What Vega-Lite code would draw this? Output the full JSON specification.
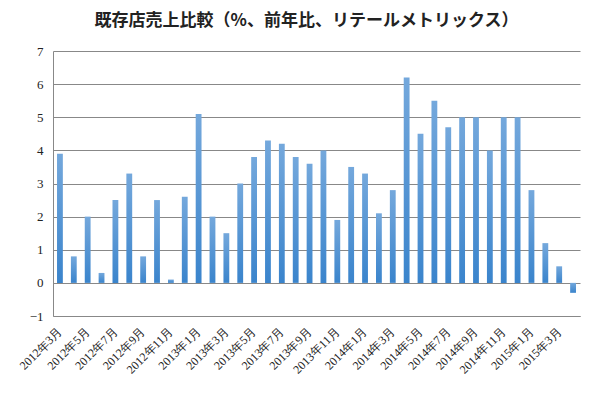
{
  "$schema": "https://vega.github.io/schema/vega-lite/v6.json",
  "width": 527,
  "height": 265,
  "autosize": {"type": "none"},
  "padding": {"left": 53, "top": 51, "right": 23, "bottom": 80},
  "background": "white",
  "title": {
    "text": "既存店売上比較（%、前年比、リテールメトリックス）",
    "font": "Noto Sans CJK JP",
    "fontSize": 17,
    "fontWeight": "bold",
    "color": "#222",
    "anchor": "middle",
    "frame": "group",
    "dx": -10,
    "offset": 15
  },
  "data": {
    "values": [
      {"month": "2012年3月", "value": 3.9},
      {"month": "2012年4月", "value": 0.8},
      {"month": "2012年5月", "value": 2.0},
      {"month": "2012年6月", "value": 0.3},
      {"month": "2012年7月", "value": 2.5},
      {"month": "2012年8月", "value": 3.3},
      {"month": "2012年9月", "value": 0.8},
      {"month": "2012年10月", "value": 2.5},
      {"month": "2012年11月", "value": 0.1},
      {"month": "2012年12月", "value": 2.6},
      {"month": "2013年1月", "value": 5.1},
      {"month": "2013年2月", "value": 2.0},
      {"month": "2013年3月", "value": 1.5},
      {"month": "2013年4月", "value": 3.0},
      {"month": "2013年5月", "value": 3.8},
      {"month": "2013年6月", "value": 4.3},
      {"month": "2013年7月", "value": 4.2},
      {"month": "2013年8月", "value": 3.8},
      {"month": "2013年9月", "value": 3.6},
      {"month": "2013年10月", "value": 4.0},
      {"month": "2013年11月", "value": 1.9},
      {"month": "2013年12月", "value": 3.5},
      {"month": "2014年1月", "value": 3.3},
      {"month": "2014年2月", "value": 2.1},
      {"month": "2014年3月", "value": 2.8},
      {"month": "2014年4月", "value": 6.2},
      {"month": "2014年5月", "value": 4.5},
      {"month": "2014年6月", "value": 5.5},
      {"month": "2014年7月", "value": 4.7},
      {"month": "2014年8月", "value": 5.0},
      {"month": "2014年9月", "value": 5.0},
      {"month": "2014年10月", "value": 4.0},
      {"month": "2014年11月", "value": 5.0},
      {"month": "2014年12月", "value": 5.0},
      {"month": "2015年1月", "value": 2.8},
      {"month": "2015年2月", "value": 1.2},
      {"month": "2015年3月", "value": 0.5},
      {"month": "2015年4月", "value": -0.3}
    ]
  },
  "mark": {
    "type": "bar",
    "fill": {
      "gradient": "linear",
      "x1": 0, "y1": 0, "x2": 0, "y2": 1,
      "stops": [
        {"offset": 0, "color": "#74a8dc"},
        {"offset": 1, "color": "#3a84cc"}
      ]
    }
  },
  "encoding": {
    "x": {
      "field": "month",
      "type": "nominal",
      "sort": null,
      "scale": {"paddingInner": 0.58, "paddingOuter": 0.29},
      "axis": {
        "title": null,
        "values": ["2012年3月","2012年5月","2012年7月","2012年9月","2012年11月","2013年1月","2013年3月","2013年5月","2013年7月","2013年9月","2013年11月","2014年1月","2014年3月","2014年5月","2014年7月","2014年9月","2014年11月","2015年1月","2015年3月"],
        "labelAngle": -45,
        "labelAlign": "right",
        "labelBaseline": "middle",
        "labelFont": "Liberation Serif",
        "labelFontSize": 12,
        "labelColor": "#222",
        "labelPadding": 13,
        "labelOverlap": false,
        "ticks": false,
        "domainColor": "#888",
        "grid": false
      }
    },
    "y": {
      "field": "value",
      "type": "quantitative",
      "scale": {"domain": [-1, 7], "nice": false},
      "axis": {
        "title": null,
        "values": [-1, 0, 1, 2, 3, 4, 5, 6, 7],
        "labelFont": "Liberation Serif",
        "labelFontSize": 13,
        "labelColor": "#222",
        "labelPadding": 10,
        "ticks": false,
        "domain": true,
        "domainColor": "#888",
        "grid": true,
        "gridColor": "#888",
        "gridOpacity": 1
      }
    }
  },
  "config": {
    "view": {"stroke": null}
  }
}
